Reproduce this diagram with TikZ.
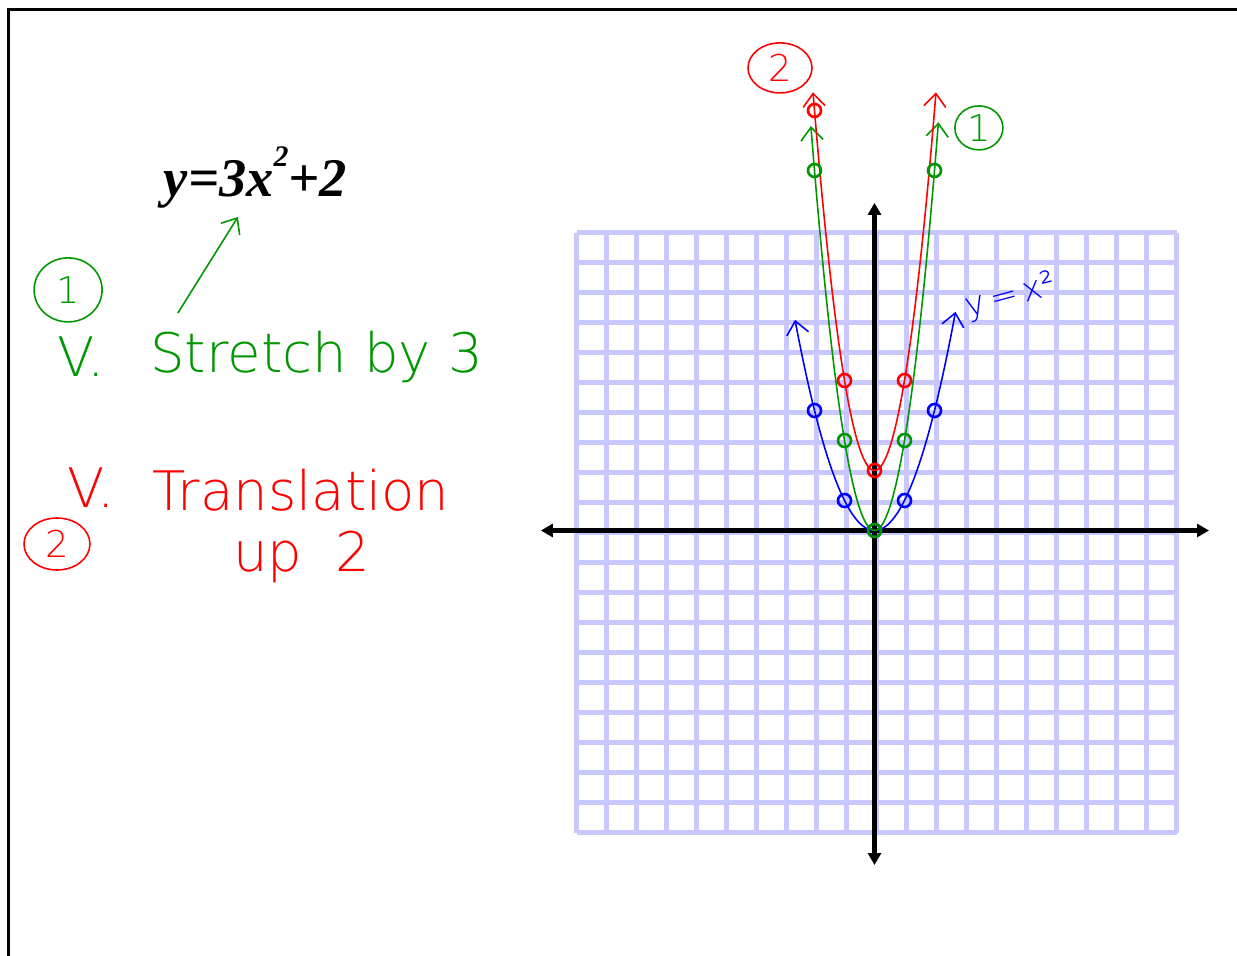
\documentclass[tikz,border=0pt]{standalone}
\usepackage{fontspec}
\setmainfont{Liberation Serif}
\newfontfamily\hand{DejaVu Sans ExtraLight}
\usetikzlibrary{arrows.meta,shapes.geometric}
\definecolor{gridblue}{RGB}{200,200,255}
\definecolor{pred}{RGB}{255,0,0}
\definecolor{pgreen}{RGB}{0,150,0}
\definecolor{pblue}{RGB}{0,0,255}
\tikzset{
  >={Triangle[length=2.4mm,width=2.6mm]},
  ax/.style={line width=2.3pt,<->},
  gl/.style={gridblue,line width=2.8pt},
  barb/.style={line width=0.9pt,-{Straight Barb[length=2.6mm,width=4.4mm]}},
  cv/.style={line width=0.9pt,{Straight Barb[length=2.6mm,width=4.4mm]}-{Straight Barb[length=2.6mm,width=4.4mm]}},
  pt/.style={circle,draw,line width=1.5pt,minimum size=2.6mm,inner sep=0pt},
  hw/.style={font=\hand\fontsize{31}{37}\selectfont,inner sep=0pt},
  cn/.style={ellipse,draw,line width=0.9pt,inner sep=0pt,font=\hand\fontsize{21}{25}\selectfont},
}

\begin{document}
\begin{tikzpicture}[x=0.6cm,y=0.6cm]
\useasboundingbox (-29.15,-14.15) rectangle (12.083,17.683);
% page frame
\draw[line width=1.7pt] (-28.88,-14.5) -- (-28.88,17.38) -- (12.5,17.38);
% grid and axes
\draw[gl,step=0.6cm,shift={(0.08,-0.08)}] (-10,-10) grid (10,10);
\coordinate (xl) at (-11.12,0); \coordinate (xr) at (11.15,0);
\coordinate (yb) at (0,-11.15); \coordinate (yt) at (0,10.92);
\draw[ax] (xl)--(xr); \draw[ax] (yb)--(yt);
% parabolas
\draw[cv,pblue] plot[domain=-2.65:2.7,smooth,samples=40] (\x,{\x*\x});
\draw[cv,pgreen] plot[domain=-2.12:2.13,smooth,samples=40] (\x,{3*\x*\x});
\draw[cv,pred] plot[domain=-2.05:2.05,smooth,samples=40] (\x,{3*\x*\x+2});
\foreach \a in {-2,-1,0,1,2}{
  \node[pt,pblue] (b\a) at (\a,{\a*\a}) {};
  \node[pt,pgreen] (g\a) at (\a,{3*\a*\a}) {};
}
\foreach \a/\b in {-2/14,-1/5,0/2,1/5} \node[pt,pred] (r\a) at (\a,\b) {};
\node[cn,pred,minimum width=1.28cm,minimum height=1cm] (c2top) at (-3.15,15.42) {2};
\node[cn,pgreen,minimum width=0.96cm,minimum height=0.88cm] (c1top) at (3.48,13.42) {1};
\node[pblue,rotate=15,inner sep=0pt,font=\hand\fontsize{19}{22}\selectfont] (lbl) at (4.55,7.8) {y\,=\,x²};
% equation and notes
\node[anchor=base west,inner sep=0pt,font=\fontsize{31}{37}\selectfont\bfseries\itshape] (eq) at (-23.7,11.12) {y=3x\raisebox{0.55em}{\fontsize{17}{20}\selectfont 2}+2};
\coordinate (a0) at (-23.22,7.25); \coordinate (a1) at (-21.22,10.45);
\draw[barb,pgreen] (a0)--(a1);
\node[cn,pgreen,minimum width=1.36cm,minimum height=1.28cm] (c1) at (-26.88,8.02) {1};
\node[hw,pgreen,anchor=base west] (v1) at (-27.25,5.12) {V.};
\node[hw,pgreen,anchor=base west] (s1) at (-24.15,5.25) {Stretch by 3};
\node[hw,pred,anchor=base west] (v2) at (-26.92,0.78) {V.};
\node[hw,pred,anchor=base west] (s2) at (-24.08,0.68) {Translation};
\node[cn,pred,minimum width=1.32cm,minimum height=1.04cm] (c2) at (-27.25,-0.45) {2};
\node[hw,pred,anchor=base west] (s3) at (-21.38,-1.38) {up\hspace{0.6em}2};
\end{tikzpicture}
\end{document}
